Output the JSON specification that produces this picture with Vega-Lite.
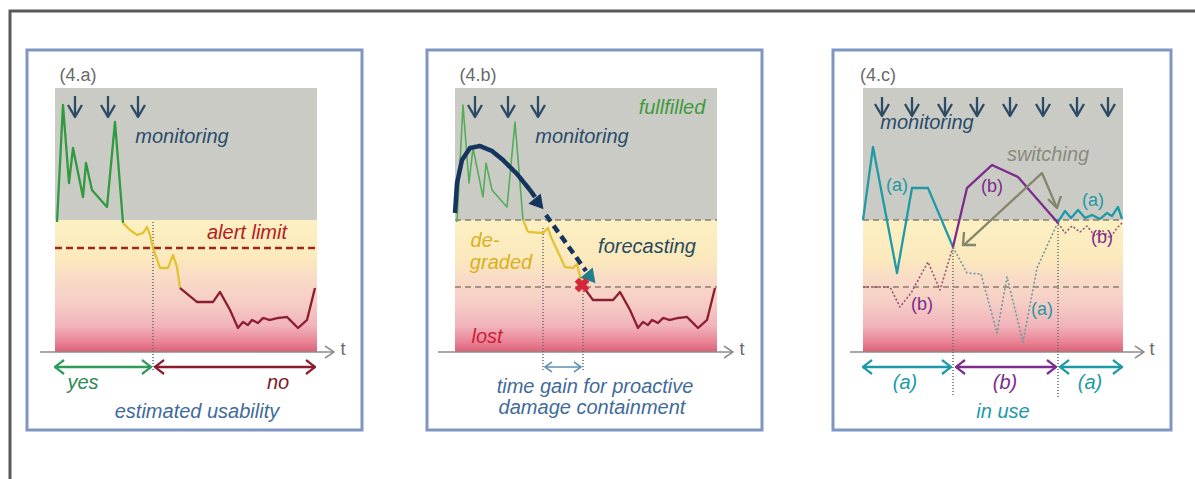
{
"$schema": "https://vega.github.io/schema/vega-lite/v6.json",
"width": 1195, "height": 479,
"autosize": {"type": "fit", "contains": "padding"},
"padding": 0,
"background": "white",
"config": {"view": {"stroke": null}},
"datasets": {
"boxes": [
{"x1": 27, "x2": 362, "y1": 50, "y2": 430},
{"x1": 427, "x2": 762, "y1": 50, "y2": 430},
{"x1": 833, "x2": 1171, "y1": 50, "y2": 430}
],
"zones": [
{"x1": 55, "x2": 317, "y1": 88, "y2": 220, "z": "grey"},
{"x1": 455, "x2": 717, "y1": 88, "y2": 220, "z": "grey"},
{"x1": 863, "x2": 1123, "y1": 88, "y2": 220, "z": "grey"},
{"x1": 55, "x2": 317, "y1": 220, "y2": 352, "z": "warm"},
{"x1": 455, "x2": 717, "y1": 220, "y2": 352, "z": "warm"},
{"x1": 863, "x2": 1123, "y1": 220, "y2": 352, "z": "warm"}
],
"lines": [
{"g":"frame","o":0,"x":10,"y":479,"k":"frame"},{"g":"frame","o":1,"x":10,"y":11,"k":"frame"},{"g":"frame","o":2,"x":1195,"y":11,"k":"frame"},

{"g":"ax1","o":0,"x":40,"y":352,"k":"axis"},{"g":"ax1","o":1,"x":333,"y":352,"k":"axis"},
{"g":"ax1h","o":0,"x":325,"y":346,"k":"axis"},{"g":"ax1h","o":1,"x":334,"y":352,"k":"axis"},{"g":"ax1h","o":2,"x":325,"y":358,"k":"axis"},
{"g":"ax2","o":0,"x":438,"y":352,"k":"axis"},{"g":"ax2","o":1,"x":732,"y":352,"k":"axis"},
{"g":"ax2h","o":0,"x":724,"y":346,"k":"axis"},{"g":"ax2h","o":1,"x":733,"y":352,"k":"axis"},{"g":"ax2h","o":2,"x":724,"y":358,"k":"axis"},
{"g":"ax3","o":0,"x":850,"y":352,"k":"axis"},{"g":"ax3","o":1,"x":1143,"y":352,"k":"axis"},
{"g":"ax3h","o":0,"x":1135,"y":346,"k":"axis"},{"g":"ax3h","o":1,"x":1144,"y":352,"k":"axis"},{"g":"ax3h","o":2,"x":1135,"y":358,"k":"axis"},

{"g":"al1","o":0,"x":55,"y":248,"k":"alert"},{"g":"al1","o":1,"x":317,"y":248,"k":"alert"},
{"g":"t2a","o":0,"x":455,"y":220,"k":"thr"},{"g":"t2a","o":1,"x":717,"y":220,"k":"thr"},
{"g":"t2b","o":0,"x":455,"y":287,"k":"thr"},{"g":"t2b","o":1,"x":717,"y":287,"k":"thr"},
{"g":"t3a","o":0,"x":863,"y":220,"k":"thr"},{"g":"t3a","o":1,"x":1123,"y":220,"k":"thr"},
{"g":"t3b","o":0,"x":863,"y":287,"k":"thr"},{"g":"t3b","o":1,"x":1123,"y":287,"k":"thr"},

{"g":"v1","o":0,"x":153,"y":222,"k":"vdot"},{"g":"v1","o":1,"x":153,"y":372,"k":"vdot"},
{"g":"v2a","o":0,"x":543,"y":228,"k":"vdot"},{"g":"v2a","o":1,"x":543,"y":372,"k":"vdot"},
{"g":"v2b","o":0,"x":583,"y":285,"k":"vdot"},{"g":"v2b","o":1,"x":583,"y":372,"k":"vdot"},
{"g":"v3a","o":0,"x":953,"y":247,"k":"vdot"},{"g":"v3a","o":1,"x":953,"y":397,"k":"vdot"},
{"g":"v3b","o":0,"x":1058,"y":222,"k":"vdot"},{"g":"v3b","o":1,"x":1058,"y":397,"k":"vdot"},

{"g":"p1g","o":0,"x":57,"y":222,"k":"green"},{"g":"p1g","o":1,"x":63,"y":105,"k":"green"},{"g":"p1g","o":2,"x":69,"y":183,"k":"green"},{"g":"p1g","o":3,"x":73,"y":148,"k":"green"},{"g":"p1g","o":4,"x":83,"y":197,"k":"green"},{"g":"p1g","o":5,"x":86,"y":163,"k":"green"},{"g":"p1g","o":6,"x":92,"y":190,"k":"green"},{"g":"p1g","o":7,"x":107,"y":207,"k":"green"},{"g":"p1g","o":8,"x":115,"y":122,"k":"green"},{"g":"p1g","o":9,"x":123,"y":223,"k":"green"},
{"g":"p1y","o":0,"x":123,"y":223,"k":"yellow"},{"g":"p1y","o":1,"x":130,"y":230,"k":"yellow"},{"g":"p1y","o":2,"x":137,"y":235,"k":"yellow"},{"g":"p1y","o":3,"x":143,"y":233,"k":"yellow"},{"g":"p1y","o":4,"x":147,"y":227,"k":"yellow"},{"g":"p1y","o":5,"x":150,"y":235,"k":"yellow"},{"g":"p1y","o":6,"x":153,"y":248,"k":"yellow"},{"g":"p1y","o":7,"x":160,"y":268,"k":"yellow"},{"g":"p1y","o":8,"x":168,"y":268,"k":"yellow"},{"g":"p1y","o":9,"x":173,"y":255,"k":"yellow"},{"g":"p1y","o":10,"x":177,"y":267,"k":"yellow"},{"g":"p1y","o":11,"x":180,"y":288,"k":"yellow"},
{"g":"p1r","o":0,"x":180,"y":288,"k":"red"},{"g":"p1r","o":1,"x":197,"y":302,"k":"red"},{"g":"p1r","o":2,"x":213,"y":302,"k":"red"},{"g":"p1r","o":3,"x":220,"y":292,"k":"red"},{"g":"p1r","o":4,"x":230,"y":310,"k":"red"},{"g":"p1r","o":5,"x":238,"y":328,"k":"red"},{"g":"p1r","o":6,"x":243,"y":322,"k":"red"},{"g":"p1r","o":7,"x":248,"y":325,"k":"red"},{"g":"p1r","o":8,"x":252,"y":320,"k":"red"},{"g":"p1r","o":9,"x":258,"y":323,"k":"red"},{"g":"p1r","o":10,"x":263,"y":318,"k":"red"},{"g":"p1r","o":11,"x":270,"y":320,"k":"red"},{"g":"p1r","o":12,"x":278,"y":318,"k":"red"},{"g":"p1r","o":13,"x":287,"y":317,"k":"red"},{"g":"p1r","o":14,"x":292,"y":322,"k":"red"},{"g":"p1r","o":15,"x":298,"y":328,"k":"red"},{"g":"p1r","o":16,"x":307,"y":320,"k":"red"},{"g":"p1r","o":17,"x":315,"y":288,"k":"red"},

{"g":"p2g","o":0,"x":457,"y":222,"k":"green2"},{"g":"p2g","o":1,"x":463,"y":105,"k":"green2"},{"g":"p2g","o":2,"x":469,"y":183,"k":"green2"},{"g":"p2g","o":3,"x":473,"y":148,"k":"green2"},{"g":"p2g","o":4,"x":483,"y":197,"k":"green2"},{"g":"p2g","o":5,"x":486,"y":163,"k":"green2"},{"g":"p2g","o":6,"x":492,"y":190,"k":"green2"},{"g":"p2g","o":7,"x":507,"y":207,"k":"green2"},{"g":"p2g","o":8,"x":515,"y":122,"k":"green2"},{"g":"p2g","o":9,"x":523,"y":220,"k":"green2"},
{"g":"p2y","o":0,"x":523,"y":220,"k":"yellow"},{"g":"p2y","o":1,"x":528,"y":232,"k":"yellow"},{"g":"p2y","o":2,"x":543,"y":233,"k":"yellow"},{"g":"p2y","o":3,"x":548,"y":228,"k":"yellow"},{"g":"p2y","o":4,"x":551,"y":237,"k":"yellow"},{"g":"p2y","o":5,"x":565,"y":267,"k":"yellow"},{"g":"p2y","o":6,"x":573,"y":268,"k":"yellow"},{"g":"p2y","o":7,"x":577,"y":264,"k":"yellow"},{"g":"p2y","o":8,"x":582,"y":285,"k":"yellow"},
{"g":"p2r","o":0,"x":582,"y":285,"k":"red"},{"g":"p2r","o":1,"x":593,"y":300,"k":"red"},{"g":"p2r","o":2,"x":613,"y":300,"k":"red"},{"g":"p2r","o":3,"x":620,"y":292,"k":"red"},{"g":"p2r","o":4,"x":630,"y":310,"k":"red"},{"g":"p2r","o":5,"x":638,"y":328,"k":"red"},{"g":"p2r","o":6,"x":643,"y":322,"k":"red"},{"g":"p2r","o":7,"x":648,"y":325,"k":"red"},{"g":"p2r","o":8,"x":652,"y":320,"k":"red"},{"g":"p2r","o":9,"x":658,"y":323,"k":"red"},{"g":"p2r","o":10,"x":663,"y":318,"k":"red"},{"g":"p2r","o":11,"x":670,"y":320,"k":"red"},{"g":"p2r","o":12,"x":678,"y":318,"k":"red"},{"g":"p2r","o":13,"x":687,"y":317,"k":"red"},{"g":"p2r","o":14,"x":692,"y":322,"k":"red"},{"g":"p2r","o":15,"x":698,"y":328,"k":"red"},{"g":"p2r","o":16,"x":707,"y":320,"k":"red"},{"g":"p2r","o":17,"x":715,"y":288,"k":"red"},

{"g":"nav","o":0,"x":455,"y":213,"k":"navy"},{"g":"nav","o":1,"x":457,"y":183,"k":"navy"},{"g":"nav","o":2,"x":462,"y":160,"k":"navy"},{"g":"nav","o":3,"x":470,"y":148,"k":"navy"},{"g":"nav","o":4,"x":480,"y":146,"k":"navy"},{"g":"nav","o":5,"x":492,"y":151,"k":"navy"},{"g":"nav","o":6,"x":503,"y":160,"k":"navy"},{"g":"nav","o":7,"x":517,"y":174,"k":"navy"},{"g":"nav","o":8,"x":530,"y":190,"k":"navy"},{"g":"nav","o":9,"x":535,"y":197,"k":"navy"},
{"g":"navd","o":0,"x":546,"y":215,"k":"navydash"},{"g":"navd","o":1,"x":586,"y":271,"k":"navydash"},

{"g":"p3a1","o":0,"x":863,"y":220,"k":"a"},{"g":"p3a1","o":1,"x":873,"y":147,"k":"a"},{"g":"p3a1","o":2,"x":897,"y":273,"k":"a"},{"g":"p3a1","o":3,"x":912,"y":188,"k":"a"},{"g":"p3a1","o":4,"x":928,"y":188,"k":"a"},{"g":"p3a1","o":5,"x":953,"y":247,"k":"a"},
{"g":"p3a2","o":0,"x":953,"y":247,"k":"adot"},{"g":"p3a2","o":1,"x":967,"y":273,"k":"adot"},{"g":"p3a2","o":2,"x":981,"y":274,"k":"adot"},{"g":"p3a2","o":3,"x":997,"y":333,"k":"adot"},{"g":"p3a2","o":4,"x":1007,"y":277,"k":"adot"},{"g":"p3a2","o":5,"x":1023,"y":342,"k":"adot"},{"g":"p3a2","o":6,"x":1037,"y":268,"k":"adot"},{"g":"p3a2","o":7,"x":1058,"y":222,"k":"adot"},
{"g":"p3a3","o":0,"x":1058,"y":222,"k":"a"},{"g":"p3a3","o":1,"x":1065,"y":211,"k":"a"},{"g":"p3a3","o":2,"x":1071,"y":218,"k":"a"},{"g":"p3a3","o":3,"x":1078,"y":210,"k":"a"},{"g":"p3a3","o":4,"x":1085,"y":218,"k":"a"},{"g":"p3a3","o":5,"x":1092,"y":215,"k":"a"},{"g":"p3a3","o":6,"x":1100,"y":219,"k":"a"},{"g":"p3a3","o":7,"x":1107,"y":213,"k":"a"},{"g":"p3a3","o":8,"x":1112,"y":216,"k":"a"},{"g":"p3a3","o":9,"x":1118,"y":207,"k":"a"},{"g":"p3a3","o":10,"x":1122,"y":219,"k":"a"},
{"g":"p3b1","o":0,"x":863,"y":287,"k":"bdot"},{"g":"p3b1","o":1,"x":890,"y":287,"k":"bdot"},{"g":"p3b1","o":2,"x":900,"y":307,"k":"bdot"},{"g":"p3b1","o":3,"x":911,"y":293,"k":"bdot"},{"g":"p3b1","o":4,"x":928,"y":262,"k":"bdot"},{"g":"p3b1","o":5,"x":940,"y":290,"k":"bdot"},{"g":"p3b1","o":6,"x":953,"y":247,"k":"bdot"},
{"g":"p3b2","o":0,"x":953,"y":247,"k":"b"},{"g":"p3b2","o":1,"x":967,"y":188,"k":"b"},{"g":"p3b2","o":2,"x":992,"y":165,"k":"b"},{"g":"p3b2","o":3,"x":1018,"y":177,"k":"b"},{"g":"p3b2","o":4,"x":1058,"y":223,"k":"b"},
{"g":"p3b3","o":0,"x":1058,"y":223,"k":"bdot"},{"g":"p3b3","o":1,"x":1065,"y":233,"k":"bdot"},{"g":"p3b3","o":2,"x":1072,"y":226,"k":"bdot"},{"g":"p3b3","o":3,"x":1080,"y":232,"k":"bdot"},{"g":"p3b3","o":4,"x":1087,"y":226,"k":"bdot"},{"g":"p3b3","o":5,"x":1095,"y":236,"k":"bdot"},{"g":"p3b3","o":6,"x":1102,"y":230,"k":"bdot"},{"g":"p3b3","o":7,"x":1110,"y":238,"k":"bdot"},{"g":"p3b3","o":8,"x":1117,"y":228,"k":"bdot"},{"g":"p3b3","o":9,"x":1123,"y":222,"k":"bdot"},

{"g":"sw","o":0,"x":964,"y":245,"k":"sw"},{"g":"sw","o":1,"x":1042,"y":173,"k":"sw"},{"g":"sw","o":2,"x":1057,"y":208,"k":"sw"},
{"g":"swh1","o":0,"x":964,"y":232,"k":"sw"},{"g":"swh1","o":1,"x":963,"y":245,"k":"sw"},{"g":"swh1","o":2,"x":976,"y":245,"k":"sw"},
{"g":"swh2","o":0,"x":1048,"y":199,"k":"sw"},{"g":"swh2","o":1,"x":1057,"y":208,"k":"sw"},{"g":"swh2","o":2,"x":1061,"y":196,"k":"sw"},

{"g":"d1","o":0,"x":75,"y":96,"k":"down"},{"g":"d1","o":1,"x":75,"y":117,"k":"down"},{"g":"d1h","o":0,"x":68,"y":105,"k":"down"},{"g":"d1h","o":1,"x":75,"y":117,"k":"down"},{"g":"d1h","o":2,"x":82,"y":105,"k":"down"},
{"g":"d2","o":0,"x":108,"y":96,"k":"down"},{"g":"d2","o":1,"x":108,"y":117,"k":"down"},{"g":"d2h","o":0,"x":101,"y":105,"k":"down"},{"g":"d2h","o":1,"x":108,"y":117,"k":"down"},{"g":"d2h","o":2,"x":115,"y":105,"k":"down"},
{"g":"d3","o":0,"x":138,"y":96,"k":"down"},{"g":"d3","o":1,"x":138,"y":117,"k":"down"},{"g":"d3h","o":0,"x":131,"y":105,"k":"down"},{"g":"d3h","o":1,"x":138,"y":117,"k":"down"},{"g":"d3h","o":2,"x":145,"y":105,"k":"down"},
{"g":"d4","o":0,"x":475,"y":96,"k":"down"},{"g":"d4","o":1,"x":475,"y":117,"k":"down"},{"g":"d4h","o":0,"x":468,"y":105,"k":"down"},{"g":"d4h","o":1,"x":475,"y":117,"k":"down"},{"g":"d4h","o":2,"x":482,"y":105,"k":"down"},
{"g":"d5","o":0,"x":508,"y":96,"k":"down"},{"g":"d5","o":1,"x":508,"y":117,"k":"down"},{"g":"d5h","o":0,"x":501,"y":105,"k":"down"},{"g":"d5h","o":1,"x":508,"y":117,"k":"down"},{"g":"d5h","o":2,"x":515,"y":105,"k":"down"},
{"g":"d6","o":0,"x":538,"y":96,"k":"down"},{"g":"d6","o":1,"x":538,"y":117,"k":"down"},{"g":"d6h","o":0,"x":531,"y":105,"k":"down"},{"g":"d6h","o":1,"x":538,"y":117,"k":"down"},{"g":"d6h","o":2,"x":545,"y":105,"k":"down"},
{"g":"d7","o":0,"x":882,"y":97,"k":"down"},{"g":"d7","o":1,"x":882,"y":116,"k":"down"},{"g":"d7h","o":0,"x":875,"y":104,"k":"down"},{"g":"d7h","o":1,"x":882,"y":116,"k":"down"},{"g":"d7h","o":2,"x":889,"y":104,"k":"down"},
{"g":"d8","o":0,"x":912,"y":97,"k":"down"},{"g":"d8","o":1,"x":912,"y":116,"k":"down"},{"g":"d8h","o":0,"x":905,"y":104,"k":"down"},{"g":"d8h","o":1,"x":912,"y":116,"k":"down"},{"g":"d8h","o":2,"x":919,"y":104,"k":"down"},
{"g":"d9","o":0,"x":945,"y":97,"k":"down"},{"g":"d9","o":1,"x":945,"y":116,"k":"down"},{"g":"d9h","o":0,"x":938,"y":104,"k":"down"},{"g":"d9h","o":1,"x":945,"y":116,"k":"down"},{"g":"d9h","o":2,"x":952,"y":104,"k":"down"},
{"g":"d10","o":0,"x":977,"y":97,"k":"down"},{"g":"d10","o":1,"x":977,"y":116,"k":"down"},{"g":"d10h","o":0,"x":970,"y":104,"k":"down"},{"g":"d10h","o":1,"x":977,"y":116,"k":"down"},{"g":"d10h","o":2,"x":984,"y":104,"k":"down"},
{"g":"d11","o":0,"x":1010,"y":97,"k":"down"},{"g":"d11","o":1,"x":1010,"y":116,"k":"down"},{"g":"d11h","o":0,"x":1003,"y":104,"k":"down"},{"g":"d11h","o":1,"x":1010,"y":116,"k":"down"},{"g":"d11h","o":2,"x":1017,"y":104,"k":"down"},
{"g":"d12","o":0,"x":1043,"y":97,"k":"down"},{"g":"d12","o":1,"x":1043,"y":116,"k":"down"},{"g":"d12h","o":0,"x":1036,"y":104,"k":"down"},{"g":"d12h","o":1,"x":1043,"y":116,"k":"down"},{"g":"d12h","o":2,"x":1050,"y":104,"k":"down"},
{"g":"d13","o":0,"x":1077,"y":97,"k":"down"},{"g":"d13","o":1,"x":1077,"y":116,"k":"down"},{"g":"d13h","o":0,"x":1070,"y":104,"k":"down"},{"g":"d13h","o":1,"x":1077,"y":116,"k":"down"},{"g":"d13h","o":2,"x":1084,"y":104,"k":"down"},
{"g":"d14","o":0,"x":1108,"y":97,"k":"down"},{"g":"d14","o":1,"x":1108,"y":116,"k":"down"},{"g":"d14h","o":0,"x":1101,"y":104,"k":"down"},{"g":"d14h","o":1,"x":1108,"y":116,"k":"down"},{"g":"d14h","o":2,"x":1115,"y":104,"k":"down"},

{"g":"yes","o":0,"x":55,"y":367,"k":"yes"},{"g":"yes","o":1,"x":151,"y":367,"k":"yes"},
{"g":"yesl","o":0,"x":64,"y":360,"k":"yes"},{"g":"yesl","o":1,"x":55,"y":367,"k":"yes"},{"g":"yesl","o":2,"x":64,"y":374,"k":"yes"},
{"g":"yesr","o":0,"x":142,"y":360,"k":"yes"},{"g":"yesr","o":1,"x":151,"y":367,"k":"yes"},{"g":"yesr","o":2,"x":142,"y":374,"k":"yes"},
{"g":"no","o":0,"x":155,"y":367,"k":"no"},{"g":"no","o":1,"x":315,"y":367,"k":"no"},
{"g":"nol","o":0,"x":164,"y":360,"k":"no"},{"g":"nol","o":1,"x":155,"y":367,"k":"no"},{"g":"nol","o":2,"x":164,"y":374,"k":"no"},
{"g":"nor","o":0,"x":306,"y":360,"k":"no"},{"g":"nor","o":1,"x":315,"y":367,"k":"no"},{"g":"nor","o":2,"x":306,"y":374,"k":"no"},
{"g":"gn","o":0,"x":545,"y":367,"k":"gain"},{"g":"gn","o":1,"x":581,"y":367,"k":"gain"},
{"g":"gnl","o":0,"x":552,"y":362,"k":"gain"},{"g":"gnl","o":1,"x":545,"y":367,"k":"gain"},{"g":"gnl","o":2,"x":552,"y":372,"k":"gain"},
{"g":"gnr","o":0,"x":574,"y":362,"k":"gain"},{"g":"gnr","o":1,"x":581,"y":367,"k":"gain"},{"g":"gnr","o":2,"x":574,"y":372,"k":"gain"},
{"g":"ia1","o":0,"x":863,"y":367,"k":"inA"},{"g":"ia1","o":1,"x":951,"y":367,"k":"inA"},
{"g":"ia1l","o":0,"x":872,"y":360,"k":"inA"},{"g":"ia1l","o":1,"x":863,"y":367,"k":"inA"},{"g":"ia1l","o":2,"x":872,"y":374,"k":"inA"},
{"g":"ia1r","o":0,"x":942,"y":360,"k":"inA"},{"g":"ia1r","o":1,"x":951,"y":367,"k":"inA"},{"g":"ia1r","o":2,"x":942,"y":374,"k":"inA"},
{"g":"ib","o":0,"x":956,"y":367,"k":"inB"},{"g":"ib","o":1,"x":1056,"y":367,"k":"inB"},
{"g":"ibl","o":0,"x":965,"y":360,"k":"inB"},{"g":"ibl","o":1,"x":956,"y":367,"k":"inB"},{"g":"ibl","o":2,"x":965,"y":374,"k":"inB"},
{"g":"ibr","o":0,"x":1047,"y":360,"k":"inB"},{"g":"ibr","o":1,"x":1056,"y":367,"k":"inB"},{"g":"ibr","o":2,"x":1047,"y":374,"k":"inB"},
{"g":"ia2","o":0,"x":1060,"y":367,"k":"inA"},{"g":"ia2","o":1,"x":1122,"y":367,"k":"inA"},
{"g":"ia2l","o":0,"x":1069,"y":360,"k":"inA"},{"g":"ia2l","o":1,"x":1060,"y":367,"k":"inA"},{"g":"ia2l","o":2,"x":1069,"y":374,"k":"inA"},
{"g":"ia2r","o":0,"x":1113,"y":360,"k":"inA"},{"g":"ia2r","o":1,"x":1122,"y":367,"k":"inA"},{"g":"ia2r","o":2,"x":1113,"y":374,"k":"inA"}
],
"heads": [
{"x": 539, "y": 204, "k": "navy"},
{"x": 591, "y": 278, "k": "teal"}
],
"cross": [{"x": 582, "y": 285}],
"textI": [
{"x":182,"y":137,"t":"monitoring","k":"mon"},
{"x":582,"y":137,"t":"monitoring","k":"mon"},
{"x":927,"y":123,"t":"monitoring","k":"mon"},
{"x":247,"y":233,"t":"alert limit","k":"alert"},
{"x":83,"y":383,"t":"yes","k":"yes"},
{"x":278,"y":383,"t":"no","k":"no"},
{"x":197,"y":412,"t":"estimated usability","k":"blue"},
{"x":672,"y":108,"t":"fullfilled","k":"full"},
{"x":485,"y":241,"t":"de-","k":"deg"},
{"x":501,"y":263,"t":"graded","k":"deg"},
{"x":647,"y":247,"t":"forecasting","k":"fore"},
{"x":487,"y":337,"t":"lost","k":"lost"},
{"x":595,"y":387,"t":"time gain for proactive","k":"blue"},
{"x":592,"y":408,"t":"damage containment","k":"blue"},
{"x":1048,"y":155,"t":"switching","k":"sw"},
{"x":905,"y":383,"t":"(a)","k":"a"},
{"x":1005,"y":383,"t":"(b)","k":"b"},
{"x":1090,"y":383,"t":"(a)","k":"a"},
{"x":1003,"y":412,"t":"in use","k":"a"}
],
"textU": [
{"x":78,"y":76,"t":"(4.a)","k":"lab"},
{"x":478,"y":76,"t":"(4.b)","k":"lab"},
{"x":878,"y":76,"t":"(4.c)","k":"lab"},
{"x":343,"y":350,"t":"t","k":"lab"},
{"x":742,"y":350,"t":"t","k":"lab"},
{"x":1152,"y":350,"t":"t","k":"lab"},
{"x":897,"y":186,"t":"(a)","k":"a"},
{"x":992,"y":187,"t":"(b)","k":"b"},
{"x":1093,"y":201,"t":"(a)","k":"a"},
{"x":1102,"y":238,"t":"(b)","k":"b"},
{"x":922,"y":305,"t":"(b)","k":"b"},
{"x":1042,"y":310,"t":"(a)","k":"a"}
]
},
"layer": [
{
"data": {"name": "boxes"},
"mark": {"type": "rect", "fill": "white", "stroke": "#7f96c2", "strokeWidth": 3},
"encoding": {
"x": {"field": "x1", "type": "quantitative", "scale": {"domain": [0, 1195], "nice": false, "zero": false}, "axis": null},
"x2": {"field": "x2"},
"y": {"field": "y1", "type": "quantitative", "scale": {"domain": [0, 479], "reverse": true, "nice": false, "zero": false}, "axis": null},
"y2": {"field": "y2"}
}
},
{
"data": {"name": "zones"},
"transform": [{"filter": "datum.z === 'grey'"}],
"mark": {"type": "rect", "fill": "#cacbc4"},
"encoding": {
"x": {"field": "x1", "type": "quantitative", "scale": {"domain": [0, 1195], "nice": false, "zero": false}, "axis": null},
"x2": {"field": "x2"},
"y": {"field": "y1", "type": "quantitative", "scale": {"domain": [0, 479], "reverse": true, "nice": false, "zero": false}, "axis": null},
"y2": {"field": "y2"}
}
},
{
"data": {"name": "zones"},
"transform": [{"filter": "datum.z === 'warm'"}],
"mark": {"type": "rect", "fill": {"gradient": "linear", "x1": 0, "y1": 0, "x2": 0, "y2": 1, "stops": [
{"offset": 0, "color": "#fcf0c2"},
{"offset": 0.3, "color": "#fbe9bd"},
{"offset": 0.42, "color": "#f9ddc6"},
{"offset": 0.62, "color": "#f6cec6"},
{"offset": 0.8, "color": "#f1b4ba"},
{"offset": 0.92, "color": "#e98597"},
{"offset": 1, "color": "#de6176"}
]}},
"encoding": {
"x": {"field": "x1", "type": "quantitative", "scale": {"domain": [0, 1195], "nice": false, "zero": false}, "axis": null},
"x2": {"field": "x2"},
"y": {"field": "y1", "type": "quantitative", "scale": {"domain": [0, 479], "reverse": true, "nice": false, "zero": false}, "axis": null},
"y2": {"field": "y2"}
}
},
{
"data": {"name": "lines"},
"transform": [{"filter": {"field": "k", "oneOf": ["axis","thr","vdot","green2","adot","bdot","gain"]}}],
"mark": {"type": "line", "strokeJoin": "round", "strokeWidth": 1.6},
"encoding": {
"x": {"field": "x", "type": "quantitative", "scale": {"domain": [0, 1195], "nice": false, "zero": false}, "axis": null},
"y": {"field": "y", "type": "quantitative", "scale": {"domain": [0, 479], "reverse": true, "nice": false, "zero": false}, "axis": null},
"order": {"field": "o", "type": "quantitative"},
"detail": {"field": "g", "type": "nominal"},
"color": {"field": "k", "type": "nominal", "legend": null, "scale": {
"domain": ["axis","thr","vdot","green2","adot","bdot","gain"],
"range": ["#8c8c8c","#8a7d70","#6e6e6e","#55ad5a","#6c9c9c","#9a5272","#5f8fb5"]}},
"strokeDash": {"field": "k", "type": "nominal", "legend": null, "scale": {
"domain": ["axis","thr","vdot","green2","adot","bdot","gain"],
"range": [[1,0],[6,4],[1,2],[1,0],[2,2],[2,2],[1,0]]}}
}
},
{
"data": {"name": "lines"},
"transform": [{"filter": {"field": "k", "oneOf": ["alert","green","yellow","red","a","b","down","yes","no","sw","inA","inB"]}}],
"mark": {"type": "line", "strokeJoin": "round", "strokeWidth": 2.3},
"encoding": {
"x": {"field": "x", "type": "quantitative", "scale": {"domain": [0, 1195], "nice": false, "zero": false}, "axis": null},
"y": {"field": "y", "type": "quantitative", "scale": {"domain": [0, 479], "reverse": true, "nice": false, "zero": false}, "axis": null},
"order": {"field": "o", "type": "quantitative"},
"detail": {"field": "g", "type": "nominal"},
"color": {"field": "k", "type": "nominal", "legend": null, "scale": {
"domain": ["alert","green","yellow","red","a","b","down","yes","no","sw","inA","inB"],
"range": ["#9c2a1c","#2f9a3e","#e3c234","#8c1d33","#1d9aa6","#7b2c8c","#2c4c66","#2f9a5a","#8a1c2e","#85856c","#1d9aa6","#7b2c8c"]}},
"strokeDash": {"field": "k", "type": "nominal", "legend": null, "scale": {
"domain": ["alert","green","yellow","red","a","b","down","yes","no","sw","inA","inB"],
"range": [[7,4],[1,0],[1,0],[1,0],[1,0],[1,0],[1,0],[1,0],[1,0],[1,0],[1,0],[1,0]]}}
}
},
{
"data": {"name": "lines"},
"transform": [{"filter": {"field": "k", "oneOf": ["frame"]}}],
"mark": {"type": "line", "strokeWidth": 3, "color": "#595959", "clip": true},
"encoding": {
"x": {"field": "x", "type": "quantitative", "scale": {"domain": [0, 1195], "nice": false, "zero": false}, "axis": null},
"y": {"field": "y", "type": "quantitative", "scale": {"domain": [0, 479], "reverse": true, "nice": false, "zero": false}, "axis": null},
"order": {"field": "o", "type": "quantitative"},
"detail": {"field": "g", "type": "nominal"}
}
},
{
"data": {"name": "lines"},
"transform": [{"filter": {"field": "k", "oneOf": ["navy","navydash"]}}],
"mark": {"type": "line", "strokeWidth": 4.5, "color": "#15355f", "strokeCap": "butt"},
"encoding": {
"x": {"field": "x", "type": "quantitative", "scale": {"domain": [0, 1195], "nice": false, "zero": false}, "axis": null},
"y": {"field": "y", "type": "quantitative", "scale": {"domain": [0, 479], "reverse": true, "nice": false, "zero": false}, "axis": null},
"order": {"field": "o", "type": "quantitative"},
"detail": {"field": "g", "type": "nominal"},
"strokeDash": {"field": "k", "type": "nominal", "legend": null, "scale": {"domain": ["navy","navydash"], "range": [[1,0],[8,5]]}}
}
},
{
"data": {"name": "heads"},
"mark": {"type": "point", "shape": "triangle-up", "filled": true, "angle": 140, "size": 260, "opacity": 1},
"encoding": {
"x": {"field": "x", "type": "quantitative", "scale": {"domain": [0, 1195], "nice": false, "zero": false}, "axis": null},
"y": {"field": "y", "type": "quantitative", "scale": {"domain": [0, 479], "reverse": true, "nice": false, "zero": false}, "axis": null},
"color": {"field": "k", "type": "nominal", "legend": null, "scale": {"domain": ["navy", "teal"], "range": ["#15355f", "#1f7f8a"]}}
}
},
{
"data": {"name": "cross"},
"mark": {"type": "point", "shape": "cross", "filled": true, "angle": 45, "size": 220, "color": "#d4283a", "opacity": 1},
"encoding": {
"x": {"field": "x", "type": "quantitative", "scale": {"domain": [0, 1195], "nice": false, "zero": false}, "axis": null},
"y": {"field": "y", "type": "quantitative", "scale": {"domain": [0, 479], "reverse": true, "nice": false, "zero": false}, "axis": null}
}
},
{
"data": {"name": "textI"},
"mark": {"type": "text", "font": "Liberation Sans", "fontStyle": "italic", "fontSize": 20, "baseline": "middle", "align": "center"},
"encoding": {
"x": {"field": "x", "type": "quantitative", "scale": {"domain": [0, 1195], "nice": false, "zero": false}, "axis": null},
"y": {"field": "y", "type": "quantitative", "scale": {"domain": [0, 479], "reverse": true, "nice": false, "zero": false}, "axis": null},
"text": {"field": "t"},
"color": {"field": "k", "type": "nominal", "legend": null, "scale": {
"domain": ["mon","alert","yes","no","blue","full","deg","fore","lost","sw","a","b"],
"range": ["#2a4c6c","#b3201f","#2c8a55","#7a1a2c","#3f6b9a","#3d9a3d","#d9b020","#2a4a5c","#cc1f3c","#8a8a80","#1d9aa6","#7b2c8c"]}}
}
},
{
"data": {"name": "textU"},
"mark": {"type": "text", "font": "Liberation Sans", "fontSize": 18, "baseline": "middle", "align": "center"},
"encoding": {
"x": {"field": "x", "type": "quantitative", "scale": {"domain": [0, 1195], "nice": false, "zero": false}, "axis": null},
"y": {"field": "y", "type": "quantitative", "scale": {"domain": [0, 479], "reverse": true, "nice": false, "zero": false}, "axis": null},
"text": {"field": "t"},
"color": {"field": "k", "type": "nominal", "legend": null, "scale": {
"domain": ["lab","a","b"],
"range": ["#6a6a6a","#1d9aa6","#7b2c8c"]}}
}
}
],
"resolve": {"scale": {"color": "independent", "strokeDash": "independent"}}
}
